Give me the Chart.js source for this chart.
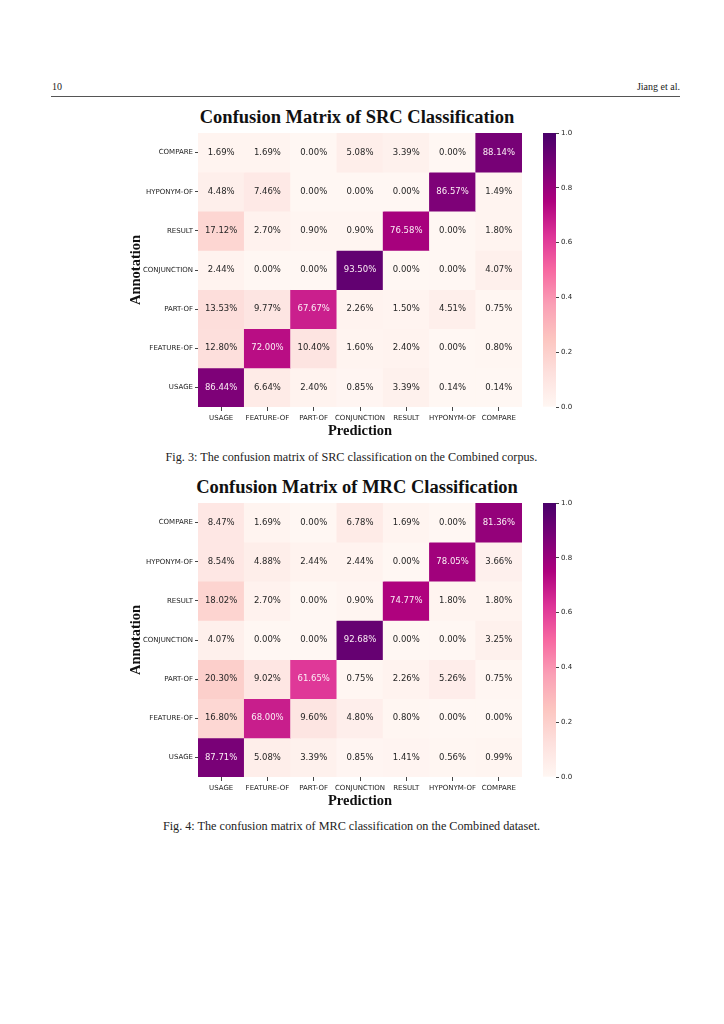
<!DOCTYPE html>
<html>
<head>
<meta charset="utf-8">
<script src="https://cdn.jsdelivr.net/npm/chart.js@4.4.1/dist/chart.umd.min.js"></script>
<style>
  body { margin: 0; background: #fff; width: 724px; height: 1024px; position: relative; overflow: hidden; font-family: 'Liberation Serif', serif; }
  .abs { position: absolute; }
  .head { top: 81px; font-size: 10px; color: #222; }
  .rule { left: 51px; top: 96px; width: 629px; height: 1px; background: #555; }
  .title { left: 0; width: 714px; text-align: center; font-weight: bold; font-size: 18.5px; line-height: 24px; color: #111; }
  .caption { left: 0; width: 703px; text-align: center; font-size: 12.2px; line-height: 14px; color: #222; }
  .box { position: absolute; }
</style>
</head>
<body>
<div class="abs head" style="left:52px">10</div>
<div class="abs head" style="right:44px">Jiang et al.</div>
<div class="abs rule"></div>

<div class="abs title" style="top:105px">Confusion Matrix of SRC Classification</div>
<div class="box" style="left:125px; top:125px; width:410px; height:322px"><canvas id="srcChart"></canvas></div>
<div class="box" style="left:538px; top:125px; width:52px; height:290px"><canvas id="srcBar"></canvas></div>
<div class="abs caption" style="top:450px">Fig. 3: The confusion matrix of SRC classification on the Combined corpus.</div>

<div class="abs title" style="top:475px">Confusion Matrix of MRC Classification</div>
<div class="box" style="left:125px; top:495px; width:410px; height:322px"><canvas id="mrcChart"></canvas></div>
<div class="box" style="left:538px; top:495px; width:52px; height:290px"><canvas id="mrcBar"></canvas></div>
<div class="abs caption" style="top:819px">Fig. 4: The confusion matrix of MRC classification on the Combined dataset.</div>

<script>
// predicted classes (x) and annotated classes (y, top to bottom)
const predLabels = ['USAGE', 'FEATURE-OF', 'PART-OF', 'CONJUNCTION', 'RESULT', 'HYPONYM-OF', 'COMPARE']
const annoLabels = ['COMPARE', 'HYPONYM-OF', 'RESULT', 'CONJUNCTION', 'PART-OF', 'FEATURE-OF', 'USAGE']
const colorbarTicks = [0, 0.2, 0.4, 0.6, 0.8, 1.0]

// percentages, one row per annotation label
const srcMatrix = [
    [1.69, 1.69, 0.00, 5.08, 3.39, 0.00, 88.14],
    [4.48, 7.46, 0.00, 0.00, 0.00, 86.57, 1.49],
    [17.12, 2.70, 0.90, 0.90, 76.58, 0.00, 1.80],
    [2.44, 0.00, 0.00, 93.50, 0.00, 0.00, 4.07],
    [13.53, 9.77, 67.67, 2.26, 1.50, 4.51, 0.75],
    [12.80, 72.00, 10.40, 1.60, 2.40, 0.00, 0.80],
    [86.44, 6.64, 2.40, 0.85, 3.39, 0.14, 0.14]
]
const mrcMatrix = [
    [8.47, 1.69, 0.00, 6.78, 1.69, 0.00, 81.36],
    [8.54, 4.88, 2.44, 2.44, 0.00, 78.05, 3.66],
    [18.02, 2.70, 0.00, 0.90, 74.77, 1.80, 1.80],
    [4.07, 0.00, 0.00, 92.68, 0.00, 0.00, 3.25],
    [20.30, 9.02, 61.65, 0.75, 2.26, 5.26, 0.75],
    [16.80, 68.00, 9.60, 4.80, 0.80, 0.00, 0.00],
    [87.71, 5.08, 3.39, 0.85, 1.41, 0.56, 0.99]
]

// RdPu colormap stops
const rdpu = ['#fff7f3', '#fde0dd', '#fcc5c0', '#fa9fb5', '#f768a1', '#dd3497', '#ae017e', '#7a0177', '#49006a']

function hexRgb(h) {
    return [parseInt(h.slice(1, 3), 16), parseInt(h.slice(3, 5), 16), parseInt(h.slice(5, 7), 16)]
}
function cmap(t) {
    t = Math.max(0, Math.min(1, t))
    const pos = t * (rdpu.length - 1)
    const i = Math.min(Math.floor(pos), rdpu.length - 2)
    const f = pos - i
    const a = hexRgb(rdpu[i]), b = hexRgb(rdpu[i + 1])
    const c = a.map((v, k) => Math.round(v + (b[k] - v) * f))
    return 'rgb(' + c.join(',') + ')'
}

const tickFont = { family: 'DejaVu Sans', size: 7 }
const axisTitleFont = { family: 'Liberation Serif', size: 14.5, weight: 'bold' }

const cellText = {
    id: 'cellText',
    afterDatasetsDraw(chart, args, opts) {
        const ctx = chart.ctx
        ctx.save()
        ctx.font = '8.5px "DejaVu Sans"'
        ctx.textAlign = 'center'
        ctx.textBaseline = 'middle'
        chart.data.datasets.forEach((ds, i) => {
            chart.getDatasetMeta(i).data.forEach((bar, j) => {
                const v = opts.matrix[i][j]
                ctx.fillStyle = v > 50 ? '#fbeef5' : '#262626'
                ctx.fillText(v.toFixed(2) + '%', bar.x, (bar.y + bar.base) / 2)
            })
        })
        ctx.restore()
    }
}

function heatmap(id, matrix) {
    new Chart(document.getElementById(id), {
        type: 'bar',
        data: {
            labels: predLabels,
            datasets: annoLabels.map((name, r) => ({
                label: name,
                data: predLabels.map(() => [r, r + 1]),
                backgroundColor: matrix[r].map(v => cmap(v / 100)),
                borderWidth: 0,
                barPercentage: 1,
                categoryPercentage: 1
            }))
        },
        options: {
            responsive: true,
            maintainAspectRatio: false,
            animation: false,
            layout: { padding: { top: 8, right: 13, bottom: 0, left: 0 } },
            plugins: {
                legend: { display: false },
                tooltip: { enabled: false },
                cellText: { matrix: matrix }
            },
            scales: {
                x: {
                    stacked: true,
                    grid: { offset: false, drawOnChartArea: false, drawTicks: true, tickLength: 4, color: '#444' },
                    border: { display: false },
                    ticks: { font: tickFont, color: '#222', padding: 3, maxRotation: 0, autoSkip: false },
                    title: { display: true, text: 'Prediction', font: axisTitleFont, color: '#111', padding: { top: 0, bottom: 7 } },
                    afterFit: (s) => { s.height = 40 }
                },
                y: {
                    min: 0,
                    max: annoLabels.length,
                    reverse: true,
                    grid: { drawOnChartArea: false, drawTicks: true, tickLength: 3, color: '#444' },
                    border: { display: false },
                    afterBuildTicks: (axis) => { axis.ticks = annoLabels.map((_, i) => ({ value: i + 0.5 })) },
                    ticks: { font: tickFont, color: '#222', padding: 2, callback: (v, i) => annoLabels[i] },
                    title: { display: true, text: 'Annotation', font: axisTitleFont, color: '#111', padding: { top: 3, bottom: 0 } },
                    afterFit: (s) => { s.width = 73 }
                }
            }
        },
        plugins: [cellText]
    })
}

function colorbar(id) {
    new Chart(document.getElementById(id), {
        type: 'bar',
        data: {
            labels: [''],
            datasets: [{
                data: [[colorbarTicks[0], colorbarTicks[colorbarTicks.length - 1]]],
                backgroundColor: (c) => {
                    const area = c.chart.chartArea
                    if (!area) return rdpu[0]
                    const g = c.chart.ctx.createLinearGradient(0, area.bottom, 0, area.top)
                    rdpu.forEach((col, i) => g.addColorStop(i / (rdpu.length - 1), col))
                    return g
                },
                borderWidth: 0,
                barPercentage: 1,
                categoryPercentage: 1
            }]
        },
        options: {
            responsive: true,
            maintainAspectRatio: false,
            animation: false,
            layout: { padding: { top: 8, right: 0, bottom: 8, left: 5 } },
            plugins: { legend: { display: false }, tooltip: { enabled: false } },
            scales: {
                x: { display: false },
                y: {
                    position: 'right',
                    min: 0,
                    max: 1,
                    grid: { drawOnChartArea: false, drawTicks: true, tickLength: 3, color: '#444' },
                    border: { display: false },
                    afterBuildTicks: (axis) => { axis.ticks = colorbarTicks.map(v => ({ value: v })) },
                    ticks: { font: tickFont, color: '#222', padding: 2, callback: (v) => v.toFixed(1) },
                    afterFit: (s) => { s.width = 34 }
                }
            }
        }
    })
}

heatmap('srcChart', srcMatrix)
colorbar('srcBar')
heatmap('mrcChart', mrcMatrix)
colorbar('mrcBar')
</script>
</body>
</html>
